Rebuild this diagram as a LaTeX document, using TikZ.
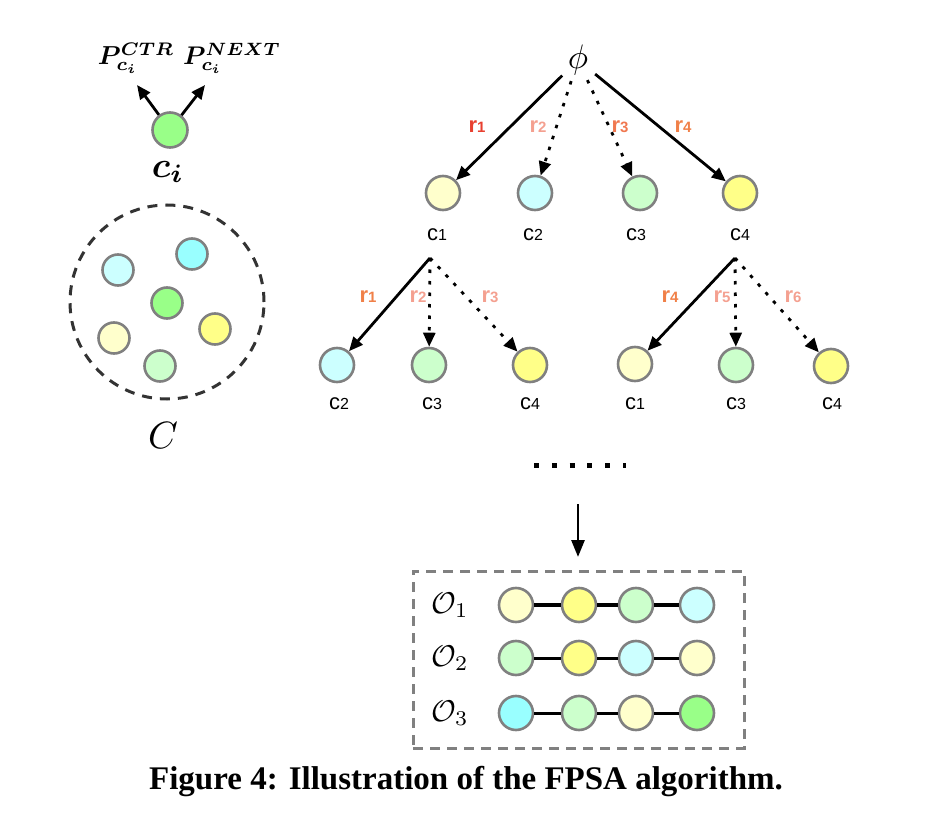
\documentclass[tikz,border=0pt]{standalone}
\usepackage{fontspec}
\usepackage{amsmath,bm}
\newfontfamily\lsans{Liberation Sans}
\newfontfamily\capfont{Liberation Serif}
\usetikzlibrary{arrows.meta}
\definecolor{lyel}{HTML}{FFFFCC}
\definecolor{yel}{HTML}{FFFF88}
\definecolor{lcy}{HTML}{CCFFFF}
\definecolor{cy}{HTML}{99FFFF}
\definecolor{lgr}{HTML}{CCFFCC}
\definecolor{gr}{HTML}{99FF88}
\definecolor{bgray}{HTML}{808080}
\definecolor{rA}{HTML}{E84030}
\definecolor{rB}{HTML}{F4A090}
\definecolor{rC}{HTML}{F07850}
\definecolor{rD}{HTML}{F08048}
\newcommand\clab[1]{{\fontsize{22}{22}\selectfont c}{\fontsize{16}{16}\selectfont #1}}
\newcommand\rlab[1]{{\bfseries\fontsize{22}{22}\selectfont r}{\bfseries\fontsize{15}{15}\selectfont #1}}
\tikzset{
  ball/.style={circle, draw=bgray, line width=2.6pt, minimum size=34pt, inner sep=0pt},
  sball/.style={ball, minimum size=31pt},
  arr/.style={-{Triangle[length=14pt,width=12pt]}, line width=2.8pt},
  dotarr/.style={arr, dash pattern=on 3.5pt off 8pt},
  clabel/.style={font=\lsans, inner sep=0pt},
  rlabel/.style={font=\lsans, inner sep=0pt},
  mlabel/.style={inner sep=0pt},
}
\begin{document}
\begin{tikzpicture}[x=1pt,y=-1pt]
\useasboundingbox (0,0) rectangle (932,818);
% ---- left: c_i
\node[ball, fill=gr, minimum size=35pt] (ci) at (170,130) {};
\coordinate (pa) at (137,85);
\coordinate (pb) at (205,85);
\draw[arr] (ci) -- (pa);
\draw[arr] (ci) -- (pb);
\node[mlabel] (pctr) at (136,58) {\scalebox{2.6}{$\bm{P_{c_i}^{CTR}}$}};
\node[mlabel] (pnext) at (232,58) {\scalebox{2.55}{$\bm{P_{c_i}^{NEXT}}$}};
\node[mlabel] (cil) at (168,172) {\scalebox{3.6}{$\bm{c_i}$}};
% ---- set C
\node[circle, draw=black!80, line width=3pt, dash pattern=on 10pt off 8pt, minimum size=194pt, inner sep=0pt] (setC) at (167,302) {};
\node[sball, fill=lcy] (s1) at (118,270) {};
\node[sball, fill=cy] (s2) at (192,254) {};
\node[sball, fill=gr] (s3) at (167,303) {};
\node[sball, fill=lyel] (s4) at (114,338) {};
\node[sball, fill=yel] (s5) at (215,329) {};
\node[sball, fill=lgr] (s6) at (160,366) {};
\node[mlabel] (Cl) at (163,436) {\scalebox{3.8}{$C$}};
% ---- tree
\node[circle, minimum size=44pt, inner sep=0pt] (phi) at (578,60) {\scalebox{3.4}{$\phi$}};
\node[ball, fill=lyel] (a1) at (443,193) {};
\node[ball, fill=lcy] (a2) at (535,193) {};
\node[ball, fill=lgr] (a3) at (640,193) {};
\node[ball, fill=yel] (a4) at (740,193) {};
\node[clabel] (la1) at (437,235) {\clab{1}};
\node[clabel] (la2) at (533,235) {\clab{2}};
\node[clabel] (la3) at (636,235) {\clab{3}};
\node[clabel] (la4) at (740,235) {\clab{4}};
\draw[arr] (phi) -- (a1);
\draw[dotarr] (phi) -- (a2);
\draw[dotarr] (phi) -- (a3);
\draw[arr] (phi) -- (a4);
\node[rlabel, text=rA] (r1) at (477,127) {\rlab{1}};
\node[rlabel, text=rB] (r2) at (538,127) {\rlab{2}};
\node[rlabel, text=rC] (r3) at (620,127) {\rlab{3}};
\node[rlabel, text=rD] (r4) at (683,127) {\rlab{4}};
% left subtree
\coordinate (L) at (430,258);
\node[ball, fill=lcy] (b1) at (337,365) {};
\node[ball, fill=lgr] (b2) at (429,365) {};
\node[ball, fill=yel] (b3) at (530,365) {};
\node[clabel] (lb1) at (339,404) {\clab{2}};
\node[clabel] (lb2) at (432,404) {\clab{3}};
\node[clabel] (lb3) at (530,404) {\clab{4}};
\draw[arr] (L) -- (b1);
\draw[dotarr] (L) -- (b2);
\draw[dotarr] (L) -- (b3);
\node[rlabel, text=rD] (q1) at (368,297) {\rlab{1}};
\node[rlabel, text=rB] (q2) at (418,297) {\rlab{2}};
\node[rlabel, text=rB] (q3) at (490,297) {\rlab{3}};
% right subtree
\coordinate (R) at (735,258);
\node[ball, fill=lyel] (d1) at (635,364) {};
\node[ball, fill=lgr] (d2) at (736,365) {};
\node[ball, fill=yel] (d3) at (831,366) {};
\node[clabel] (ld1) at (635,404) {\clab{1}};
\node[clabel] (ld2) at (736,404) {\clab{3}};
\node[clabel] (ld3) at (832,404) {\clab{4}};
\draw[arr] (R) -- (d1);
\draw[dotarr] (R) -- (d2);
\draw[dotarr] (R) -- (d3);
\node[rlabel, text=rD] (p4) at (670,297) {\rlab{4}};
\node[rlabel, text=rB] (p5) at (722,297) {\rlab{5}};
\node[rlabel, text=rB] (p6) at (793,297) {\rlab{6}};
% dots and arrow
\coordinate (dA) at (534,465);
\coordinate (dB) at (626,465);
\draw[line width=5pt, dash pattern=on 5pt off 12.8pt] (dA) -- (dB);
\coordinate (vA) at (578,504);
\coordinate (vB) at (578,557);
\draw[-{Triangle[length=17pt,width=13pt]}, line width=2.8pt] (vA) -- (vB);
% result box
\node[draw=bgray, line width=3pt, dash pattern=on 10pt off 7pt, minimum width=331pt, minimum height=177pt, inner sep=0pt] (box) at (578.5,659.5) {};
\foreach \row/\yy/\ca/\cb/\cc/\cd/\lw in {1/605/lyel/yel/lgr/lcy/4pt, 2/658/lgr/yel/lcy/lyel/3pt, 3/713/cy/lgr/lyel/gr/3pt}{
  \node[mlabel] (o\row) at (450,\yy) {\scalebox{3}{$\mathcal{O}_{\row}$}};
  \node[ball, fill=\ca, minimum size=34pt] (o\row a) at (516,\yy) {};
  \node[ball, fill=\cb, minimum size=34pt] (o\row b) at (579,\yy) {};
  \node[ball, fill=\cc, minimum size=34pt] (o\row c) at (636,\yy) {};
  \node[ball, fill=\cd, minimum size=34pt] (o\row d) at (697,\yy) {};
  \draw[line width=\lw] (o\row a) -- (o\row b);
  \draw[line width=\lw] (o\row b) -- (o\row c);
  \draw[line width=\lw] (o\row c) -- (o\row d);
}
% caption
\node[inner sep=0pt, font=\capfont\bfseries\fontsize{33}{33}\selectfont] (cap) at (466,782) {Figure 4: Illustration of the FPSA algorithm.};
\end{tikzpicture}
\end{document}
